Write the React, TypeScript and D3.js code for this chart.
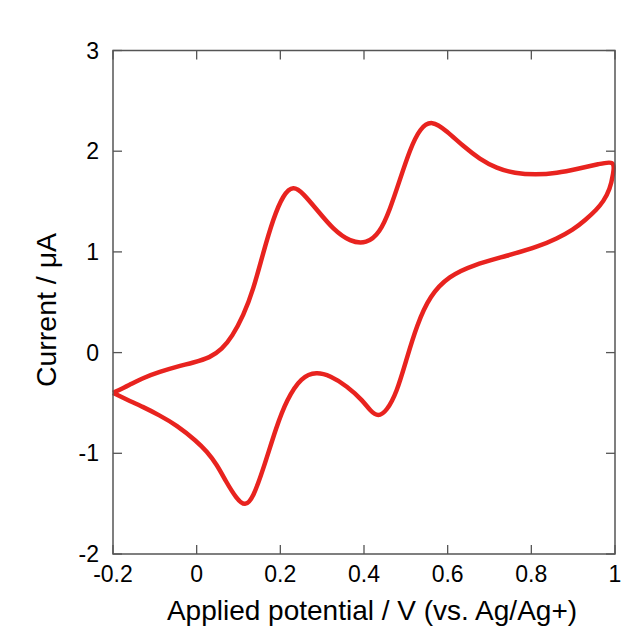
import React, { useEffect, useRef } from 'react';
import * as d3 from 'd3';

// forward scan (-0.2 V -> 1 V)
const fwdV = [-0.2, -0.16, -0.128, -0.088, -0.048, -0.008, 0.032, 0.06, 0.085, 0.112, 0.135, 0.159, 0.183, 0.207, 0.231, 0.255, 0.287, 0.327, 0.367, 0.406, 0.438, 0.462, 0.486, 0.51, 0.534, 0.562, 0.598, 0.637, 0.677, 0.717, 0.76, 0.81, 0.86, 0.916, 0.96, 1.0];
const fwdI = [-0.4, -0.32, -0.25, -0.19, -0.14, -0.1, -0.05, 0.03, 0.16, 0.37, 0.62, 0.99, 1.33, 1.57, 1.66, 1.58, 1.42, 1.22, 1.1, 1.08, 1.19, 1.42, 1.72, 2.02, 2.23, 2.31, 2.2, 2.05, 1.92, 1.83, 1.78, 1.765, 1.78, 1.83, 1.87, 1.91];
// reverse scan (1 V -> -0.2 V)
const revV = [1.0, 0.996, 0.988, 0.972, 0.956, 0.93, 0.9, 0.86, 0.821, 0.741, 0.661, 0.603, 0.558, 0.526, 0.502, 0.478, 0.454, 0.434, 0.415, 0.398, 0.359, 0.319, 0.287, 0.25, 0.215, 0.191, 0.159, 0.135, 0.116, 0.095, 0.07, 0.048, 0.024, 0.0, -0.048, -0.09, -0.128, -0.165, -0.2];
const revI = [1.91, 1.78, 1.62, 1.5, 1.42, 1.32, 1.22, 1.13, 1.06, 0.96, 0.87, 0.76, 0.57, 0.27, -0.06, -0.4, -0.58, -0.64, -0.58, -0.48, -0.33, -0.23, -0.19, -0.24, -0.47, -0.73, -1.16, -1.44, -1.53, -1.45, -1.28, -1.11, -0.98, -0.88, -0.72, -0.62, -0.54, -0.47, -0.4];

const xTicks = [-0.2, 0, 0.2, 0.4, 0.6, 0.8, 1];
const yTicks = [-2, -1, 0, 1, 2, 3];

export default function App() {
  const ref = useRef<SVGSVGElement>(null);

  useEffect(() => {
    const width = 631;
    const height = 628;
    const m = { left: 113, right: 16, top: 50.5, bottom: 74 };
    const svg = d3.select(ref.current);
    svg.selectAll('*').remove();

    const x = d3.scaleLinear().domain([-0.2, 1]).range([m.left, width - m.right]);
    const y = d3.scaleLinear().domain([-2, 3]).range([height - m.bottom, m.top]);
    const font = 'Liberation Sans, Arial, Helvetica, sans-serif';
    const axisColor = '#555';
    const tickLen = 9;

    const pts: [number, number][] = [
      ...fwdV.map((v, i) => [v, fwdI[i]] as [number, number]),
      ...revV.slice(1).map((v, i) => [v, revI[i + 1]] as [number, number]),
    ];

    const line = d3.line<[number, number]>()
      .x(d => x(d[0]))
      .y(d => y(d[1]))
      .curve(d3.curveBasis);

    svg.append('path')
      .attr('d', line(pts))
      .attr('fill', 'none')
      .attr('stroke', '#e8231f')
      .attr('stroke-width', 4.5)
      .attr('stroke-linejoin', 'round');

    // frame
    svg.append('rect')
      .attr('x', x(-0.2)).attr('y', y(3))
      .attr('width', x(1) - x(-0.2)).attr('height', y(-2) - y(3))
      .attr('fill', 'none').attr('stroke', axisColor).attr('stroke-width', 1.5);

    // x ticks (bottom and top, inward)
    xTicks.forEach(t => {
      svg.append('line').attr('x1', x(t)).attr('x2', x(t))
        .attr('y1', y(-2)).attr('y2', y(-2) - tickLen)
        .attr('stroke', axisColor).attr('stroke-width', 1.3);
      svg.append('line').attr('x1', x(t)).attr('x2', x(t))
        .attr('y1', y(3)).attr('y2', y(3) + tickLen)
        .attr('stroke', axisColor).attr('stroke-width', 1.3);
      svg.append('text')
        .attr('x', x(t)).attr('y', y(-2) + 28)
        .attr('text-anchor', 'middle')
        .attr('font-family', font).attr('font-size', 23)
        .attr('fill', '#000')
        .text(String(t));
    });

    // y ticks (left and right, inward)
    yTicks.forEach(t => {
      svg.append('line').attr('x1', x(-0.2)).attr('x2', x(-0.2) + tickLen)
        .attr('y1', y(t)).attr('y2', y(t))
        .attr('stroke', axisColor).attr('stroke-width', 1.3);
      svg.append('line').attr('x1', x(1)).attr('x2', x(1) - tickLen)
        .attr('y1', y(t)).attr('y2', y(t))
        .attr('stroke', axisColor).attr('stroke-width', 1.3);
      svg.append('text')
        .attr('x', 99).attr('y', y(t) + 8)
        .attr('text-anchor', 'end')
        .attr('font-family', font).attr('font-size', 23)
        .attr('fill', '#000')
        .text(String(t));
    });

    // axis titles
    svg.append('text')
      .attr('x', 372).attr('y', 620)
      .attr('text-anchor', 'middle')
      .attr('font-family', font).attr('font-size', 28)
      .attr('fill', '#000')
      .text('Applied potential / V (vs. Ag/Ag+)');

    svg.append('text')
      .attr('transform', `translate(56, 310) rotate(-90)`)
      .attr('text-anchor', 'middle')
      .attr('font-family', font).attr('font-size', 28.5)
      .attr('fill', '#000')
      .text('Current / μA');
  }, []);

  return (
    <svg ref={ref} width={631} height={628}
      style={{ position: 'absolute', left: 0, top: 0, background: '#fff' }} />
  );
}
